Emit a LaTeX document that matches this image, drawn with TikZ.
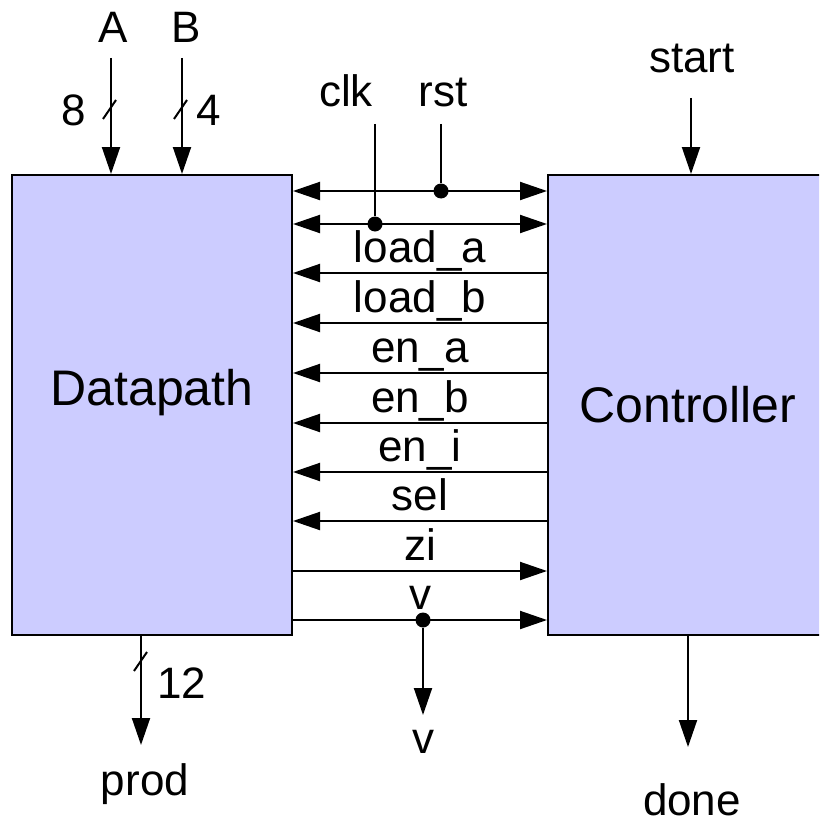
\documentclass[tikz,border=0pt]{standalone}
\usepackage{fontspec}
\setmainfont{Liberation Sans}
\usetikzlibrary{arrows.meta}
\definecolor{blockblue}{HTML}{CCCCFF}

\begin{document}
\begin{tikzpicture}[
	x=1pt, y=-1pt,
	font=\fontsize{44}{52}\selectfont,
	block/.style={draw=black, fill=blockblue, line width=2pt, minimum height=460pt, inner sep=0pt},
	blockname/.style={anchor=base, inner sep=0pt, font=\fontsize{50}{60}\selectfont},
	ioname/.style={anchor=base, inner sep=0pt},
	signame/.style={anchor=base, inner sep=0pt, yshift=11pt},
	wire/.style={line width=2pt, draw=black},
	arrow/.style={wire, -{Triangle[length=27pt, width=18pt]}},
	twoway/.style={wire, {Triangle[length=27pt, width=18pt]}-{Triangle[length=27pt, width=18pt]}},
	tap/.style={circle, fill=black, inner sep=0pt, minimum size=15pt},
	buswidth/.style={line width=2pt, draw=black}
]
\useasboundingbox (0,0) rectangle (819,824);
\clip (0,0) rectangle (819,824);

% Datapath and controller blocks
\node[block, minimum width=280pt] (dp) at (152,405) {};
\node[block, minimum width=282pt] (ctrl) at (689,405) {};
\node[blockname] (dpname) at (152,405) {Datapath};
\node[blockname] (ctrlname) at (688,422) {Controller};

% Clock and reset go to both blocks
\node[tap] (rsttap) at (441,191) {};
\node[tap] (clktap) at (375,224) {};
\draw[twoway] (dp.east |- rsttap) -- (ctrl.west |- rsttap);
\draw[twoway] (dp.east |- clktap) -- (ctrl.west |- clktap);
\coordinate (rstin) at (441,124);
\coordinate (clkin) at (375,124);
\draw[wire] (rstin) -- (rsttap);
\draw[wire] (clkin) -- (clktap);
\node[ioname] (clkname) at (346,107) {clk};
\node[ioname] (rstname) at (443,107) {rst};

% Control signals
\foreach \y/\sig in {273/load\_a, 323/load\_b, 373/en\_a, 423/en\_b, 472/en\_i, 521/sel}
	\draw[arrow] (ctrl.west |- 0,\y) -- node[signame] (sig\y) {\sig} (dp.east |- 0,\y);

% Status signals
\node[tap] (vtap) at (423,620) {};
\draw[arrow] (dp.east |- 0,571) -- node[signame] (zi) {zi} (ctrl.west |- 0,571);
\draw[arrow] (dp.east |- vtap) -- node[signame] (vname) {v} (ctrl.west |- vtap);
\coordinate (vout) at (423,715);
\draw[arrow] (vtap) -- (vout);
\node[ioname] (voutname) at (423,753) {v};

% Data inputs and output
\coordinate (ain) at (111,58);
\coordinate (bin) at (182,58);
\coordinate (prodout) at (141,745);
\draw[arrow] (ain) -- (ain |- dp.north);
\draw[arrow] (bin) -- (bin |- dp.north);
\draw[arrow] (prodout |- dp.south) -- (prodout);
\draw[buswidth] (110,109) +(-7,10) -- +(6,-9);
\draw[buswidth] (181,109) +(-7,10) -- +(6,-9);
\draw[buswidth] (141,661) +(-7,10) -- +(6,-9);
\node[ioname] (aname) at (113,43) {A};
\node[ioname] (bname) at (186,43) {B};
\node[ioname] (awidth) at (74,125) {8};
\node[ioname] (bwidth) at (209,125) {4};
\node[ioname] (prodwidth) at (182,698) {12};
\node[ioname] (prodname) at (145,795) {prod};

% Controller start and done
\coordinate (startin) at (691,98);
\coordinate (doneout) at (688,747);
\draw[arrow] (startin) -- (startin |- ctrl.north);
\draw[arrow] (doneout |- ctrl.south) -- (doneout);
\node[ioname] (startname) at (692,73) {start};
\node[ioname] (donename) at (692,815) {done};

\end{tikzpicture}
\end{document}
